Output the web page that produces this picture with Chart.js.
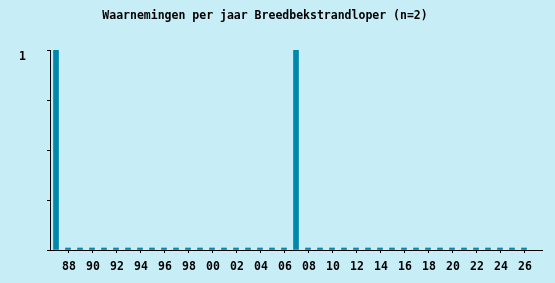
<!DOCTYPE html>
<html>
<head>
<meta charset="utf-8">
<script src="https://cdn.jsdelivr.net/npm/chart.js@4.4.0/dist/chart.umd.min.js"></script>
<style>
  html, body { margin: 0; padding: 0; background: #c7eef7; }
  #wrap { width: 555px; height: 283px; position: relative; }
</style>
</head>
<body>
<div id="wrap"><canvas id="chart"></canvas></div>
<script>
// jaren 1987 t/m 2026
const years = [
  "87", "88", "89", "90", "91", "92", "93", "94", "95", "96",
  "97", "98", "99", "00", "01", "02", "03", "04", "05", "06",
  "07", "08", "09", "10", "11", "12", "13", "14", "15", "16",
  "17", "18", "19", "20", "21", "22", "23", "24", "25", "26",
];
const counts = [
  1, 0, 0, 0, 0, 0, 0, 0, 0, 0,
  0, 0, 0, 0, 0, 0, 0, 0, 0, 0,
  1, 0, 0, 0, 0, 0, 0, 0, 0, 0,
  0, 0, 0, 0, 0, 0, 0, 0, 0, 0,
];
const yTicks = [0, 0.25, 0.5, 0.75, 1];
const titleText = "Waarnemingen per jaar Breedbekstrandloper (n=2)";

const monoFont = "'DejaVu Sans Mono', 'Liberation Mono', monospace";

// titel zelf tekenen, iets links van het midden zoals het origineel
const titlePlugin = {
  id: "titel",
  afterDraw: (chart) => {
    const ctx = chart.ctx;
    ctx.save();
    ctx.font = "bold 11.5px " + monoFont;
    ctx.fillStyle = "#000";
    ctx.textAlign = "center";
    ctx.textBaseline = "middle";
    ctx.fillText(titleText, 265, 16);
    ctx.restore();
  },
};

// x als index van het jaar, de as loopt een plek door na 2026
const points = counts.map((c, i) => ({ x: i, y: c }));

new Chart(document.getElementById("chart"), {
  type: "bar",
  data: {
    datasets: [
      {
        data: points,
        backgroundColor: "#0088ab",
        borderWidth: 0,
        barThickness: 5,
        minBarLength: 2,
      },
    ],
  },
  options: {
    responsive: true,
    maintainAspectRatio: false,
    animation: false,
    layout: { padding: { top: 50, left: 0, right: 13, bottom: 0 } },
    plugins: {
      legend: { display: false },
      title: { display: false },
      tooltip: { enabled: false },
    },
    scales: {
      x: {
        type: "linear",
        offset: false,
        min: -0.5,
        max: years.length + 0.5,
        afterFit: (scale) => { scale.height = 33; },
        afterBuildTicks: (scale) => {
          scale.ticks = years.map((y, i) => ({ value: i }));
        },
        grid: {
          offset: false,
          drawOnChartArea: false,
          tickLength: 3,
          color: (c) => (c.index % 2 === 1 ? "#000" : "rgba(0,0,0,0)"),
        },
        border: { color: "#000", width: 1 },
        ticks: {
          autoSkip: false,
          maxRotation: 0,
          padding: 7,
          labelOffset: 1,
          color: "#000",
          font: { family: monoFont, size: 11.5, weight: "bold" },
          callback: (v, i) => (i % 2 === 1 ? years[i] : ""),
        },
      },
      y: {
        min: 0,
        max: 1,
        afterFit: (scale) => { scale.width = 50; },
        afterBuildTicks: (scale) => {
          scale.ticks = yTicks.map((v) => ({ value: v }));
        },
        grid: {
          drawOnChartArea: false,
          tickLength: 3,
          color: "#000",
        },
        border: { color: "#000", width: 1 },
        ticks: {
          padding: 21,
          labelOffset: 7,
          color: "#000",
          font: { family: monoFont, size: 11.5, weight: "bold" },
          callback: (v) => (v === 1 ? "1" : ""),
        },
      },
    },
  },
  plugins: [titlePlugin],
});
</script>
</body>
</html>
